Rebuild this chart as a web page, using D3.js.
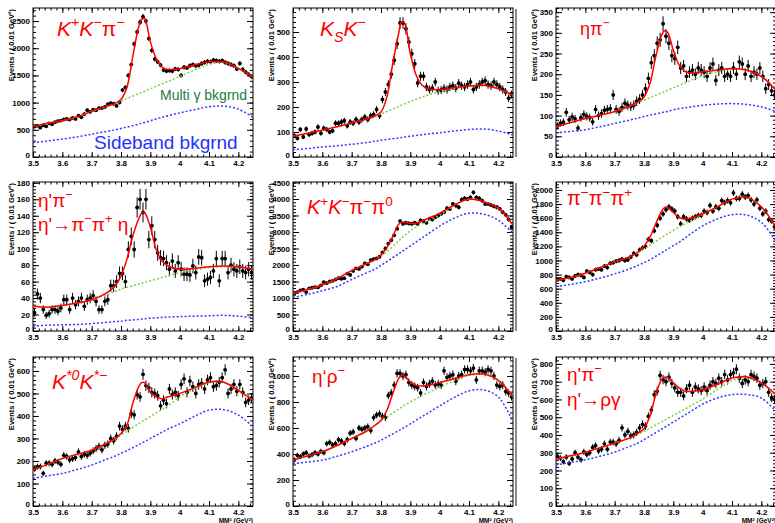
<!DOCTYPE html>
<html><head><meta charset="utf-8">
<script src="https://cdn.jsdelivr.net/npm/d3@7"></script>
<style>body{margin:0;background:#fff;}svg{display:block;}</style>
</head><body><svg id="c" width="775" height="523"></svg>
<script>
// ---------- data ----------
const binCenters = [3.505,3.515,3.525,3.535,3.545,3.555,3.565,3.575,3.585,3.595,
3.605,3.615,3.625,3.635,3.645,3.655,3.665,3.675,3.685,3.695,
3.705,3.715,3.725,3.735,3.745,3.755,3.765,3.775,3.785,3.795,
3.805,3.815,3.825,3.835,3.845,3.855,3.865,3.875,3.885,3.895,
3.905,3.915,3.925,3.935,3.945,3.955,3.965,3.975,3.985,3.995,
4.005,4.015,4.025,4.035,4.045,4.055,4.065,4.075,4.085,4.095,
4.105,4.115,4.125,4.135,4.145,4.155,4.165,4.175,4.185,4.195,
4.205,4.215,4.225,4.235,4.245];
const knots = [3.50,3.55,3.60,3.65,3.70,3.75,3.78,3.80,3.82,3.84,3.86,3.87,3.88,3.90,3.92,3.94,3.96,4.00,4.05,4.10,4.15,4.20,4.25];
const xTickValues = [3.5,3.6,3.7,3.8,3.9,4.0,4.1,4.2];
const xTickLabels = ["3.5","3.6","3.7","3.8","3.9","4","4.1","4.2"];
const yAxisTitle = "Events / ( 0.01 GeV\u00B2)";
const xAxisTitle = "MM\u00B2 (GeV\u00B2)";
const yMaxes = [2740, 596, 360, 181, 4515, 2113, 662, 1146, 839];
const yMajorSteps = [500, 100, 50, 20, 500, 200, 100, 200, 100];

// 1: K+K-pi-
const kkpiCounts = [560,575,540,580,565,620,600,640,660,670,
690,700,690,720,700,760,730,790,860,830,
870,860,900,900,920,970,990,980,940,1000,
1230,1280,1500,1700,2080,2300,2480,2580,2500,2180,
1960,1800,1750,1690,1600,1580,1590,1580,1620,1610,
1500,1650,1640,1680,1700,1680,1690,1720,1740,1760,
1750,1780,1770,1760,1770,1740,1720,1700,1680,1620,
1720,1610,1560,1520,1480];
const kkpiFit   = [560,620,670,740,840,930,985,1060,1280,1840,2390,2530,2550,2120,1810,1655,1610,1625,1690,1750,1745,1630,1470];
const kkpiMulti = [560,620,670,740,840,930,985,1030,1075,1120,1165,1188,1210,1255,1300,1345,1390,1480,1600,1705,1740,1630,1470];
const kkpiSide  = [265,295,330,370,420,470,500,525,550,575,605,620,635,665,700,730,760,810,870,925,935,880,730];

// 2: KS K-
const kskCounts = [85,75,110,80,112,90,95,100,120,95,
115,110,100,105,135,135,140,145,125,140,
135,150,140,150,160,150,165,170,190,165,
230,260,290,331,387,453,536,536,513,460,
413,373,296,323,323,280,270,275,300,265,
268,275,270,280,285,275,295,285,280,290,
300,270,280,290,300,305,290,285,300,290,
280,270,260,235,250];
const kskFit   = [83,95,107,121,136,152,165,180,240,373,493,540,535,413,327,287,273,269,277,284,287,273,247];
const kskMulti = [83,95,107,121,136,152,163,172,182,192,202,207,212,222,231,240,248,262,274,283,286,273,247];
const kskSide  = [29,34,40,45,51,58,63,67,70,73,76,78,80,83,86,89,92,97,104,110,112,104,88];

// 3: eta pi-
const etapiCounts = [75,82,84,108,90,97,92,70,95,103,
98,95,85,115,100,105,113,115,117,150,
115,110,120,130,125,122,125,135,140,150,
165,190,228,245,275,283,322,292,275,245,
238,265,215,220,195,205,210,200,215,210,
205,195,215,225,185,210,215,195,200,195,
215,200,230,225,200,220,195,205,200,215,
195,165,175,160,150];
const etapiFit   = [73,83,93,101,110,122,133,145,177,242,294,305,302,258,222,207,203,206,210,214,210,195,161];
const etapiMulti = [73,83,93,101,110,122,131,137,143,149,155,158,161,167,173,179,185,196,206,212,210,195,161];
const etapiSide  = [58,62,66,73,81,89,94,98,101,104,107,109,110,114,117,119,121,125,128,129,127,121,110];

// 4: eta' pi-  (eta' -> pi- pi+ eta)
const etappiCounts = [22,45,40,26,19,21,26,26,24,28,
38,38,26,40,32,36,40,30,38,40,
43,36,26,26,36,38,55,55,60,70,
70,60,99,115,99,150,160,144,160,111,
128,111,95,89,88,83,75,85,73,83,
75,69,69,68,79,71,90,89,61,63,
65,73,88,61,88,88,71,80,75,73,
78,73,71,75,71];
const etappiFit   = [30,29,31,34,38,46,55,67,87,115,136,143,144,126,99,85,79,75,76,78,79,78,75];
const etappiMulti = [30,29,31,34,38,44,48,51,53,55,57,58,59,61,63,65,67,71,74,77,78,78,75];
const etappiSide  = [6,7,7.5,8,9,10.5,11.5,12,13,13.5,14,14.5,15,15.5,16,16.5,17,17.5,18,18.5,19,18,16];

// 5: K+K-pi-pi0
const kkpipi0Counts = [1150,1180,1230,1250,1180,1290,1310,1330,1320,1380,
1480,1450,1500,1520,1560,1600,1580,1600,1740,1700,
1820,1900,1880,1950,2050,2020,2150,2180,2200,2250,
2380,2500,2650,2750,2900,3100,3330,3250,3280,3260,
3250,3280,3250,3350,3330,3280,3400,3380,3450,3500,
3550,3600,3720,3700,3850,3800,3750,3980,4020,4000,
4050,4200,4050,4020,3950,3850,3850,3820,3780,3750,
3700,3600,3520,3380,3150];
const kkpipi0Fit   = [1141,1263,1394,1590,1830,2040,2160,2300,2535,2858,3230,3300,3293,3262,3262,3333,3414,3565,3818,4000,3919,3717,3212];
const kkpipi0Multi = [1141,1263,1394,1590,1830,2040,2160,2290,2400,2560,2730,2810,2890,3030,3150,3250,3340,3510,3790,4000,3919,3717,3212];
const kkpipi0Side  = [1020,1110,1220,1350,1560,1760,1880,1990,2100,2220,2340,2400,2460,2580,2700,2820,2940,3180,3420,3570,3540,3360,2960];

// 6: pi-pi-pi+
const pipipiCounts = [730,740,720,770,760,740,780,800,790,760,
850,830,800,870,880,870,920,900,960,970,
990,1000,1020,1000,1010,1050,1100,1080,1150,1180,
1200,1300,1280,1420,1500,1600,1660,1720,1760,1730,
1700,1620,1520,1620,1590,1570,1600,1620,1640,1640,
1700,1680,1780,1700,1760,1740,1850,1820,1850,1820,
1960,1880,1880,1940,1900,1920,1860,1800,1860,1740,
1660,1700,1580,1560,1480];
const pipipiFit   = [720,760,820,900,980,1050,1120,1200,1330,1520,1700,1750,1755,1680,1610,1590,1600,1660,1760,1870,1895,1760,1470];
const pipipiMulti = [720,760,820,900,980,1050,1110,1160,1215,1270,1325,1350,1375,1425,1475,1520,1565,1650,1760,1870,1895,1760,1470];
const pipipiSide  = [630,660,700,750,810,880,930,970,1010,1060,1110,1135,1160,1210,1260,1320,1380,1490,1590,1650,1645,1540,1270];

// 7: K*0 K*-
const kstarCounts = [165,175,175,145,190,190,185,200,195,185,
225,220,205,210,215,240,220,230,225,235,
245,255,265,250,270,275,300,290,310,355,
340,355,345,410,405,495,485,585,535,525,
505,500,490,445,470,455,520,495,505,490,
540,565,505,555,530,500,540,545,520,560,
570,530,535,550,570,605,500,520,540,510,
540,505,460,470,480];
const kstarFit   = [160,185,211,230,248,278,300,322,359,455,529,548,548,507,485,477,485,500,525,551,550,514,470];
const kstarMulti = [160,185,211,230,248,278,298,315,332,349,366,374,382,398,414,430,445,485,520,547,550,514,470];
const kstarSide  = [123,134,145,162,182,207,222,234,246,259,272,279,286,300,314,328,342,365,398,426,428,404,352];

// 8: eta' rho-
const etaprhoCounts = [355,390,380,400,410,385,395,410,400,420,
410,480,490,470,480,510,500,480,510,560,
570,520,600,590,600,610,580,680,700,710,
690,680,850,870,930,1020,1020,1000,1010,950,
930,920,910,870,950,920,940,960,930,940,
930,1040,990,1000,1010,960,1000,1010,1050,1050,
1040,1060,970,1040,1040,1030,1050,1040,1000,930,
920,930,880,870,840];
const etaprhoFit   = [353,385,417,465,519,575,621,660,736,864,979,1005,1000,954,928,923,928,949,979,1010,1015,967,839];
const etaprhoMulti = [353,385,417,465,519,575,621,655,685,715,745,760,775,800,825,850,872,912,965,1003,1012,967,839];
const etaprhoSide  = [327,338,353,382,417,458,485,506,530,555,580,592,605,632,660,688,715,770,835,885,893,839,647];

// 9: eta' pi-  (eta' -> rho gamma)
const etaprgCounts = [280,270,250,275,240,265,300,275,260,305,
290,300,330,340,310,320,350,320,360,360,
350,370,440,400,420,395,400,415,440,460,
450,505,540,627,646,735,712,700,725,690,
665,640,640,620,660,680,640,670,660,650,
670,650,680,700,690,720,700,740,710,740,
750,770,720,690,710,700,740,730,720,680,
690,700,640,610,600];
const etaprgFit   = [265,283,303,328,354,382,410,435,505,627,712,725,725,693,665,646,646,655,684,721,728,693,627];
const etaprgMulti = [265,283,303,328,354,382,405,420,438,456,474,483,492,510,528,546,564,602,655,705,725,693,627];
const etaprgSide  = [232,245,260,280,303,335,355,373,393,413,433,443,453,473,493,513,533,574,608,627,628,608,533];

// channel labels: [text, flags]  i = italic, ^ = superscript, _ = subscript
const labelKKpi   = [[["K","i"],["+","^"],["K","i"],["\u2212","^"],["\u03C0",""],["\u2212","^"]]];
const labelKsK    = [[["K","i"],["S","i_"],["K","i"],["\u2212","^"]]];
const labelEtaPi  = [[["\u03B7\u03C0",""],["\u2212","^"]]];
const labelEtapPi1= [[["\u03B7'\u03C0",""],["\u2212","^"]],[["\u03B7'\u2192\u03C0",""],["\u2212","^"],["\u03C0",""],["+","^"],[" \u03B7",""]]];
const labelKKpipi0= [[["K","i"],["+","^"],["K","i"],["\u2212","^"],["\u03C0",""],["\u2212","^"],["\u03C0",""],["0","^"]]];
const labelPiPiPi = [[["\u03C0",""],["\u2212","^"],["\u03C0",""],["\u2212","^"],["\u03C0",""],["+","^"]]];
const labelKstar  = [[["K","i"],["*0","i^"],["K","i"],["*\u2212","i^"]]];
const labelEtapRho= [[["\u03B7\u2018\u03C1",""],["\u2212","^"]]];
const labelEtapPi2= [[["\u03B7'\u03C0",""],["\u2212","^"]],[["\u03B7'\u2192\u03C1\u03B3",""]]];
const multiText = "Multi \u03B3 bkgrnd";
const sideText = "Sideband bkgrnd";

// ---------- layout / drawing ----------
const svg = d3.select("#c");
const FONT = "'Liberation Sans', Arial, Helvetica, sans-serif";
const colLeft = [33, 293, 556], rowTop = [8, 182, 357];
const plotW = 220, plotH = 149;

const panels = [
 {d:kkpiCounts, f:kkpiFit, m:kkpiMulti, s:kkpiSide, lab:labelKKpi, lx:57, ly:36, ls:21, lh:0},
 {d:kskCounts, f:kskFit, m:kskMulti, s:kskSide, lab:labelKsK, lx:320, ly:36, ls:21, lh:0},
 {d:etapiCounts, f:etapiFit, m:etapiMulti, s:etapiSide, lab:labelEtaPi, lx:580, ly:35, ls:18, lh:0},
 {d:etappiCounts, f:etappiFit, m:etappiMulti, s:etappiSide, lab:labelEtapPi1, lx:38, ly:207, ls:19, lh:24},
 {d:kkpipi0Counts, f:kkpipi0Fit, m:kkpipi0Multi, s:kkpipi0Side, lab:labelKKpipi0, lx:307, ly:214, ls:20, lh:0},
 {d:pipipiCounts, f:pipipiFit, m:pipipiMulti, s:pipipiSide, lab:labelPiPiPi, lx:567, ly:205, ls:20, lh:0},
 {d:kstarCounts, f:kstarFit, m:kstarMulti, s:kstarSide, lab:labelKstar, lx:52, ly:389, ls:21, lh:0},
 {d:etaprhoCounts, f:etaprhoFit, m:etaprhoMulti, s:etaprhoSide, lab:labelEtapRho, lx:312, ly:383, ls:19, lh:0},
 {d:etaprgCounts, f:etaprgFit, m:etaprgMulti, s:etaprgSide, lab:labelEtapPi2, lx:567, ly:381, ls:19, lh:25}
];

// separator lines at the third column edge
rowTop.forEach(t => {
  svg.append("line").attr("x1",516).attr("x2",516).attr("y1",t+1).attr("y2",t+plotH)
    .attr("stroke","#8a8a8a").attr("stroke-width",2);
});

function drawLabel(g, x, y, size, color, parts) {
  const t = g.append("text").attr("x",x).attr("y",y).attr("font-size",size)
    .attr("fill",color).attr("font-family",FONT);
  let cur = 0;
  parts.forEach(([s, fl]) => {
    const target = fl.includes("^") ? -0.42*size : fl.includes("_") ? 0.28*size : 0;
    const ts = t.append("tspan").text(s).attr("dy", target - cur);
    if (fl.includes("^") || fl.includes("_")) ts.attr("font-size", size*0.68);
    if (fl.includes("i")) ts.attr("font-style","italic");
    cur = target;
  });
}

panels.forEach((p, k) => {
  const col = k % 3, row = Math.floor(k / 3);
  const left = colLeft[col], top = rowTop[row];
  const yMax = yMaxes[k], step = yMajorSteps[k];
  const x = d3.scaleLinear().domain([3.5, 4.25]).range([left, left + plotW]);
  const y = d3.scaleLinear().domain([0, yMax]).range([top + plotH, top]);
  const g = svg.append("g");

  const clipId = "clip" + k;
  svg.append("clipPath").attr("id", clipId).append("rect")
    .attr("x", left).attr("y", top).attr("width", plotW).attr("height", plotH);

  // axes
  const yMajor = d3.range(0, yMax + 1e-9, step);
  const yMinor = d3.range(0, yMax + 1e-9, step / 5);
  const xMinor = d3.range(0, 38).map(i => 3.5 + i * 0.02);
  const styleAxis = sel => {
    sel.select(".domain").remove();
    sel.selectAll("line").attr("stroke", "#000").attr("stroke-width", 1);
    sel.selectAll("text").attr("font-family", FONT).attr("font-size", 8)
      .attr("font-weight", "bold").attr("fill", "#000");
  };
  const yAx = g.append("g").attr("transform", `translate(${left},0)`)
    .call(d3.axisLeft(y).tickValues(yMajor).tickSize(-6).tickPadding(3).tickFormat(d3.format("d"))).call(styleAxis);
  yAx.selectAll("text").filter(d => d === 0).attr("dy", "0.1em");
  g.append("g").attr("transform", `translate(${left},0)`)
    .call(d3.axisLeft(y).tickValues(yMinor).tickSize(-3).tickFormat("")).call(styleAxis);
  g.append("g").attr("transform", `translate(${left + plotW},0)`)
    .call(d3.axisRight(y).tickValues(yMajor).tickSize(-6).tickFormat("")).call(styleAxis);
  g.append("g").attr("transform", `translate(${left + plotW},0)`)
    .call(d3.axisRight(y).tickValues(yMinor).tickSize(-3).tickFormat("")).call(styleAxis);
  g.append("g").attr("transform", `translate(0,${top + plotH})`)
    .call(d3.axisBottom(x).tickValues(xTickValues).tickSize(-5).tickPadding(3.5)
      .tickFormat((d, i) => xTickLabels[i])).call(styleAxis);
  g.append("g").attr("transform", `translate(0,${top + plotH})`)
    .call(d3.axisBottom(x).tickValues(xMinor).tickSize(-2.5).tickFormat("")).call(styleAxis);
  g.append("g").attr("transform", `translate(0,${top})`)
    .call(d3.axisTop(x).tickValues(xTickValues).tickSize(-5).tickFormat("")).call(styleAxis);
  g.append("g").attr("transform", `translate(0,${top})`)
    .call(d3.axisTop(x).tickValues(xMinor).tickSize(-2.5).tickFormat("")).call(styleAxis);

  g.append("rect").attr("x", left).attr("y", top).attr("width", plotW).attr("height", plotH)
    .attr("fill", "none").attr("stroke", "#000").attr("stroke-width", 1);

  // y title
  g.append("text").attr("transform", `translate(${left - 19},${top + 1}) rotate(-90)`)
    .attr("text-anchor", "end").attr("font-family", FONT).attr("font-size", 7.5)
    .attr("font-weight", "bold").text(yAxisTitle);
  if (row === 2) {
    g.append("text").attr("x", left + plotW).attr("y", top + plotH + 16.7)
      .attr("text-anchor", "end").attr("font-family", FONT).attr("font-size", 6.5)
      .attr("font-weight", "bold").text(xAxisTitle);
  }

  const inner = g.append("g").attr("clip-path", `url(#${clipId})`);
  // data points
  const pts = inner.append("g");
  p.d.forEach((v, i) => {
    const c = binCenters[i], e = Math.sqrt(v);
    pts.append("line").attr("x1", x(c)).attr("x2", x(c)).attr("y1", y(v - e)).attr("y2", y(v + e))
      .attr("stroke", "#000").attr("stroke-width", 1);
    pts.append("line").attr("x1", x(c - 0.005)).attr("x2", x(c + 0.005)).attr("y1", y(v)).attr("y2", y(v))
      .attr("stroke", "#000").attr("stroke-width", 1);
    pts.append("circle").attr("cx", x(c)).attr("cy", y(v)).attr("r", 1.9).attr("fill", "#000");
  });

  const line = d3.line().x(d => x(d[0])).y(d => y(d[1])).curve(d3.curveCatmullRom.alpha(0.5));
  inner.append("path").attr("d", line(d3.zip(knots, p.s))).attr("fill", "none")
    .attr("stroke", "#2f3cff").attr("stroke-width", 1.5).attr("stroke-dasharray", "2,2");
  inner.append("path").attr("d", line(d3.zip(knots, p.m))).attr("fill", "none")
    .attr("stroke", "#7ccf45").attr("stroke-width", 1.5).attr("stroke-dasharray", "2,2");
  inner.append("path").attr("d", line(d3.zip(knots, p.f))).attr("fill", "none")
    .attr("stroke", "#ff0000").attr("stroke-width", 1.5);

  // channel label
  p.lab.forEach((parts, li) => drawLabel(g, p.lx, p.ly + li * p.lh, p.ls, "#ff0000", parts));
});

// legend-like annotations in first panel
svg.append("text").attr("x", 160).attr("y", 100).attr("font-family", FONT).attr("font-size", 14)
  .attr("fill", "#1e7a45").text(multiText);
svg.append("text").attr("x", 94).attr("y", 149).attr("font-family", FONT).attr("font-size", 19)
  .attr("fill", "#2233ff").text(sideText);
</script></body></html>
